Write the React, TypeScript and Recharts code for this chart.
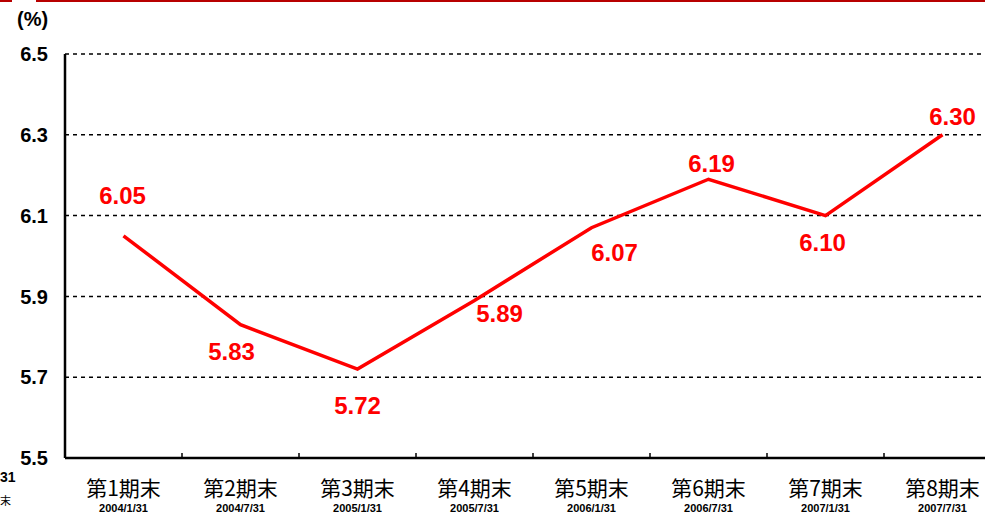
import React from 'react';
import { CartesianGrid, LabelList, Line, LineChart, XAxis, YAxis } from 'recharts';

const periods = ['第1期末', '第2期末', '第3期末', '第4期末', '第5期末', '第6期末', '第7期末', '第8期末'];
const dates = ['2004/1/31', '2004/7/31', '2005/1/31', '2005/7/31', '2006/1/31', '2006/7/31', '2007/1/31', '2007/7/31'];
const rates = [6.05, 5.83, 5.72, 5.89, 6.07, 6.19, 6.1, 6.3];
const yTicks = [5.5, 5.7, 5.9, 6.1, 6.3, 6.5];

// label offsets from each point (dx, dy)
const labelOffsets: [number, number][] = [
  [-1, -40],
  [-9, 27],
  [0, 36],
  [25, 13],
  [23, 25],
  [3, -16],
  [-3, 27],
  [10, -18],
];

const data = periods.map((p, i) => ({ period: p, date: dates[i], rate: rates[i] }));

const BAND = 117;

const PeriodTick = (props: any) => {
  const { x, y, payload, index } = props;
  return (
    <g>
      {index > 0 && <line x1={x - BAND / 2} x2={x - BAND / 2} y1={y} y2={y - 5} stroke="#000" strokeWidth={1.5} />}
      <text
        x={x}
        y={y + 38}
        textAnchor="middle"
        fontFamily="'Noto Sans CJK JP', sans-serif"
        fontSize={21}
        fill="#000"
      >
        {payload.value}
      </text>
      <text
        x={x}
        y={y + 54}
        textAnchor="middle"
        fontFamily="Arial, 'Liberation Sans', sans-serif"
        fontWeight="bold"
        fontSize={11}
        fill="#000"
      >
        {dates[index]}
      </text>
    </g>
  );
};

const RateLabel = (props: any) => {
  const { x, y, value, index } = props;
  const [dx, dy] = labelOffsets[index];
  return (
    <text
      x={x + dx}
      y={y + dy}
      textAnchor="middle"
      dominantBaseline="central"
      fontFamily="Arial, 'Liberation Sans', sans-serif"
      fontWeight="bold"
      fontSize={24}
      fill="#ff0000"
    >
      {Number(value).toFixed(2)}
    </text>
  );
};

const App: React.FC = () => (
  <div
    style={{
      position: 'fixed',
      left: 0,
      top: 0,
      width: 985,
      height: 514,
      overflow: 'hidden',
      background: '#fff',
      fontFamily: "Arial, 'Liberation Sans', sans-serif",
    }}
  >
    <div style={{ position: 'absolute', left: 0, top: 0, width: 12, height: 2, background: '#b80000' }} />
    <div style={{ position: 'absolute', left: 36, top: 0, width: 960, height: 2, background: '#b80000' }} />
    <div style={{ position: 'absolute', left: 17, top: 8, fontSize: 20, fontWeight: 'bold' }}>(%)</div>
    <div style={{ position: 'absolute', left: 0, top: 469, fontSize: 14, fontWeight: 'bold' }}>31</div>
    <div
      style={{
        position: 'absolute',
        left: 0,
        top: 492,
        fontSize: 11,
        fontFamily: "'Noto Sans CJK JP', sans-serif",
      }}
    >
      末
    </div>
    <div style={{ position: 'absolute', left: 0, top: 0 }}>
      <LineChart width={1010} height={514} data={data} margin={{ top: 54, right: 9, bottom: 0, left: 0 }}>
        <CartesianGrid vertical={false} stroke="#000" strokeDasharray="4 4" strokeWidth={1.5} />
        <XAxis
          dataKey="period"
          height={56}
          padding={{ left: BAND / 2, right: BAND / 2 }}
          axisLine={{ stroke: '#000', strokeWidth: 2.5 }}
          tickLine={false}
          tickSize={0}
          tickMargin={0}
          interval={0}
          tick={<PeriodTick />}
        />
        <YAxis
          domain={[5.5, 6.5]}
          ticks={yTicks}
          width={65}
          axisLine={{ stroke: '#000', strokeWidth: 2.5 }}
          tickLine={false}
          tickSize={0}
          tickMargin={17}
          tickFormatter={(v: number) => v.toFixed(1)}
          tick={{ fill: '#000', fontSize: 20, fontWeight: 'bold', fontFamily: "Arial, 'Liberation Sans', sans-serif" }}
        />
        <Line
          type="linear"
          dataKey="rate"
          stroke="#ff0000"
          strokeWidth={3.5}
          dot={false}
          activeDot={false}
          isAnimationActive={false}
        >
          <LabelList dataKey="rate" content={<RateLabel />} />
        </Line>
      </LineChart>
    </div>
  </div>
);

export default App;
